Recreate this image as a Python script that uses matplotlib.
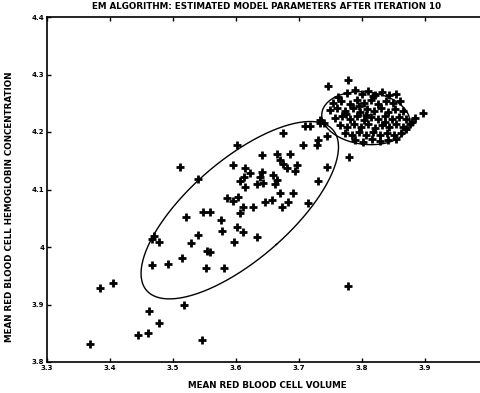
import numpy as np
import matplotlib
matplotlib.use("Agg")
import matplotlib.pyplot as plt

# Red blood cell measurements (log scale): volume vs hemoglobin concentration
volume_a = [3.368, 3.384, 3.405, 3.444, 3.460, 3.462, 3.478, 3.517, 3.546, 3.467,
            3.478, 3.470, 3.467, 3.492, 3.514, 3.552, 3.581, 3.529, 3.540, 3.554,
            3.559, 3.521, 3.548, 3.559, 3.576, 3.578, 3.602, 3.611, 3.606, 3.597,
            3.633, 3.586, 3.595, 3.603, 3.611, 3.627, 3.614, 3.606, 3.613, 3.511,
            3.540, 3.595, 3.614, 3.622, 3.602, 3.641, 3.665, 3.686, 3.670, 3.675,
            3.697, 3.681, 3.694, 3.641, 3.638, 3.659, 3.665, 3.643, 3.633, 3.662,
            3.730, 3.670, 3.690, 3.646, 3.657, 3.683, 3.673, 3.714, 3.706, 3.729,
            3.744, 3.675, 3.710, 3.717, 3.733, 3.740, 3.744, 3.779, 3.778, 3.730]
hemo_a = [3.831, 3.929, 3.937, 3.847, 3.850, 3.889, 3.868, 3.899, 3.838, 4.014,
          4.009, 4.019, 3.969, 3.970, 3.981, 3.963, 3.963, 4.007, 4.021, 3.993,
          3.991, 4.052, 4.061, 4.061, 4.047, 4.028, 4.035, 4.026, 4.059, 4.009,
          4.017, 4.085, 4.080, 4.087, 4.070, 4.070, 4.104, 4.115, 4.122, 4.139,
          4.118, 4.143, 4.137, 4.129, 4.177, 4.160, 4.162, 4.162, 4.151, 4.144,
          4.143, 4.137, 4.132, 4.130, 4.122, 4.125, 4.117, 4.111, 4.110, 4.110,
          4.115, 4.094, 4.094, 4.078, 4.082, 4.078, 4.070, 4.077, 4.177, 4.177,
          4.193, 4.198, 4.210, 4.210, 4.216, 4.216, 4.139, 4.157, 3.932, 4.186]

volume_b = [3.746, 3.778, 3.733,
            3.762, 3.776, 3.789, 3.800, 3.810, 3.821, 3.832, 3.843, 3.854,
            3.754, 3.767, 3.781, 3.792, 3.803, 3.814, 3.825, 3.838, 3.849, 3.860,
            3.749, 3.760, 3.773, 3.786, 3.797, 3.808, 3.819, 3.830, 3.841, 3.852, 3.865,
            3.757, 3.768, 3.781, 3.792, 3.803, 3.814, 3.825, 3.837, 3.848, 3.859, 3.870, 3.884, 3.897,
            3.765, 3.776, 3.787, 3.798, 3.810, 3.821, 3.832, 3.843, 3.854, 3.865, 3.876,
            3.773, 3.784, 3.795, 3.806, 3.817, 3.829, 3.840, 3.851, 3.862,
            3.789, 3.802, 3.816, 3.829, 3.841, 3.854,
            3.795, 3.806, 3.836, 3.870, 3.880, 3.775, 3.818]
hemo_b = [4.280, 4.290, 4.221,
          4.261, 4.268, 4.273, 4.266, 4.271, 4.264, 4.270, 4.264, 4.266,
          4.250, 4.254, 4.249, 4.256, 4.250, 4.256, 4.249, 4.254, 4.250, 4.254,
          4.238, 4.242, 4.237, 4.242, 4.235, 4.240, 4.237, 4.242, 4.235, 4.240, 4.237,
          4.224, 4.228, 4.223, 4.228, 4.221, 4.226, 4.223, 4.228, 4.223, 4.226, 4.223, 4.224, 4.233,
          4.212, 4.209, 4.214, 4.209, 4.214, 4.207, 4.212, 4.209, 4.214, 4.209, 4.214,
          4.198, 4.195, 4.200, 4.195, 4.200, 4.195, 4.198, 4.195, 4.198,
          4.186, 4.183, 4.188, 4.184, 4.186, 4.188,
          4.245, 4.230, 4.218, 4.205, 4.218, 4.232, 4.262]

# Fitted Gaussian mixture components
means = [[3.606, 4.064], [3.806, 4.224]]
covs = [[[0.00614, 0.00431], [0.00431, 0.00595]],
        [[0.00122, -0.0000975], [-0.0000975, 0.00053]]]

x_ticks = [3.3, 3.4, 3.5, 3.6, 3.7, 3.8, 3.9]
y_ticks = [3.8, 3.9, 4.0, 4.1, 4.2, 4.3, 4.4]
x_range = (3.3, 4.05)

fig = plt.figure(figsize=(4.81, 3.93), dpi=100)
# the plot area runs on past the right edge of the canvas
ax_w = 630 * (x_range[1] - x_range[0])
ax = fig.add_axes([47 / 481, 31 / 393, ax_w / 481, 345 / 393])

x = np.concatenate([volume_a, volume_b])
y = np.concatenate([hemo_a, hemo_b])
ax.plot(x, y, '+', color='black', markersize=5.5, markeredgewidth=2.0)

t = np.linspace(0, 2 * np.pi, 200)
for m, c in zip(means, covs):
    vals, vecs = np.linalg.eigh(np.array(c))
    circle = np.vstack([np.cos(t), np.sin(t)]) * 2.0
    pts = vecs @ (np.sqrt(vals)[:, None] * circle)
    ax.plot(m[0] + pts[0], m[1] + pts[1], color='black', linewidth=1.0)

ax.set_xlim(*x_range)
ax.set_ylim(3.8, 4.4)
ax.set_xticks(x_ticks)
ax.set_yticks(y_ticks)
ax.set_xticklabels(['%g' % v for v in x_ticks])
ax.set_yticklabels(['%g' % v for v in y_ticks])
ax.tick_params(direction='in', top=True, right=False, length=3, width=1.0,
               labelsize=5, pad=2)
for lab in ax.get_xticklabels() + ax.get_yticklabels():
    lab.set_fontweight('bold')
for s in ax.spines.values():
    s.set_linewidth(1.2)
ax.spines['right'].set_visible(False)

title_x = (267 - 47) / ax_w
ax.set_title('EM ALGORITHM: ESTIMATED MODEL PARAMETERS AFTER ITERATION 10',
             fontsize=6.3, fontweight='bold', pad=6, x=title_x)
ax.set_xlabel('MEAN RED BLOOD CELL VOLUME', fontsize=6.3, fontweight='bold')
ax.xaxis.set_label_coords(title_x, -0.055)
ax.set_ylabel('MEAN RED BLOOD CELL HEMOGLOBIN CONCENTRATION', fontsize=6.3,
              fontweight='bold')
ax.yaxis.set_label_coords(-33 / ax_w, (393 - 207 - 31) / 345)

fig.savefig('out.png', dpi=100)
